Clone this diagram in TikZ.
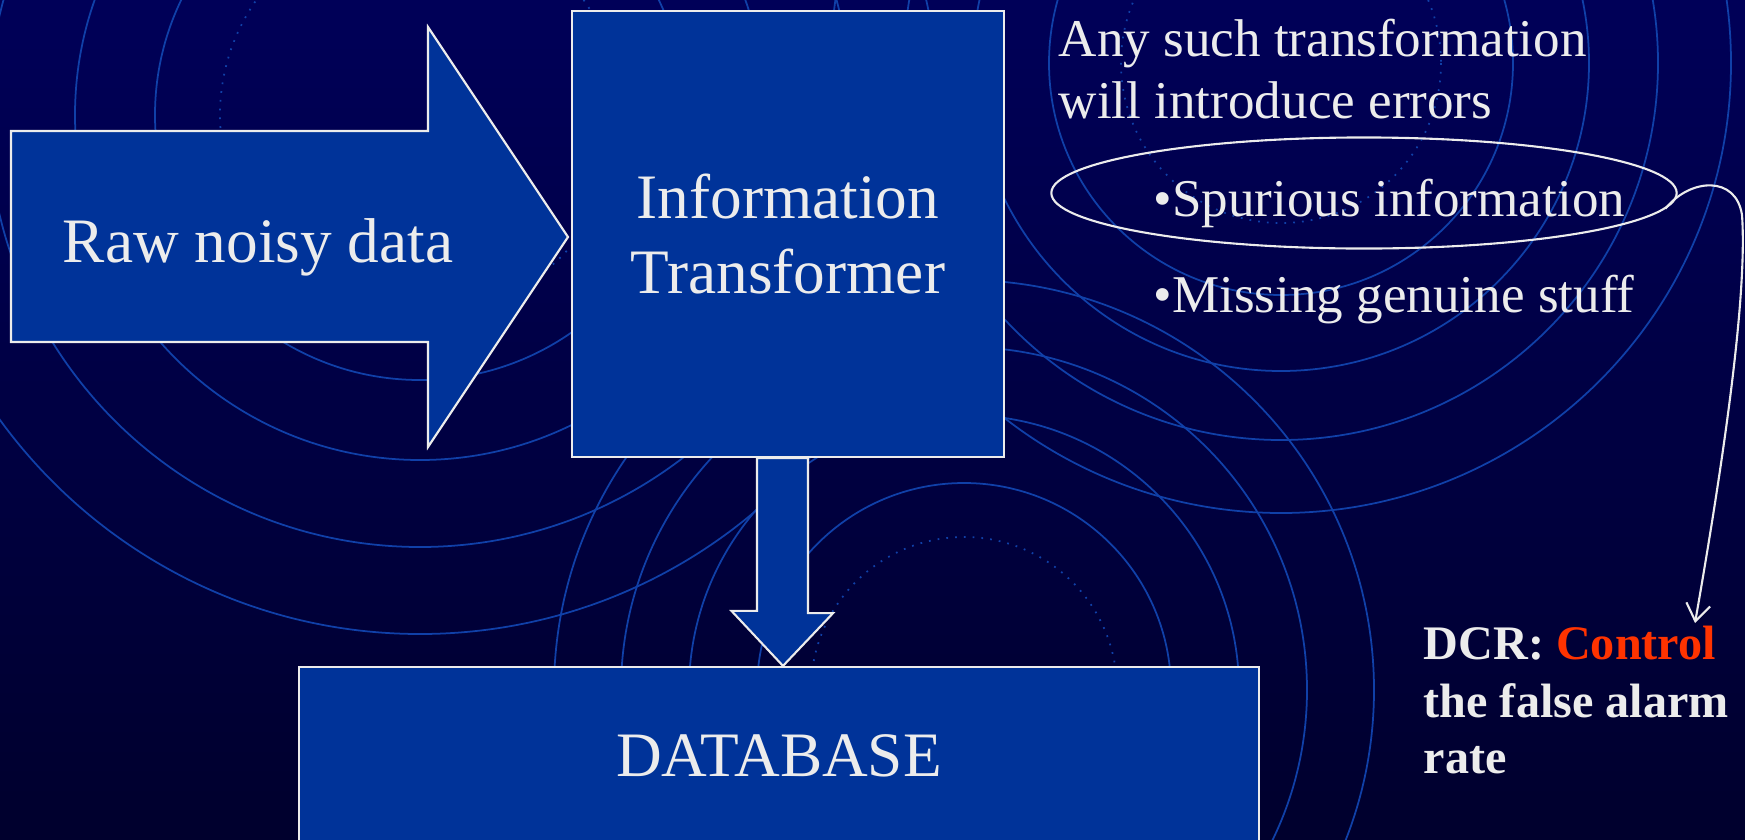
\documentclass[tikz,border=0pt]{standalone}
\usepackage{fontspec}
\setmainfont{Liberation Serif}
\usetikzlibrary{shapes.geometric,arrows.meta}

\definecolor{bgtop}{RGB}{0,0,88}
\definecolor{bgbot}{RGB}{0,0,45}
\definecolor{boxblue}{RGB}{0,51,153}
\definecolor{ripple}{RGB}{16,64,168}
\definecolor{txt}{RGB}{236,236,236}
\definecolor{alarm}{RGB}{255,51,0}

\tikzset{
  blockbox/.style={draw=txt, fill=boxblue, line width=0.6pt, inner sep=0pt},
  bigtxt/.style={text=txt, font=\fontsize{18}{21.5}\selectfont, inner sep=0pt},
  sidetxt/.style={text=txt, font=\fontsize{15.1}{17.4}\selectfont, inner sep=0pt, anchor=base west},
  dcrtxt/.style={text=txt, font=\fontsize{13.7}{16.6}\selectfont\bfseries, inner sep=0pt, anchor=base west},
  ring/.style={draw=ripple, line width=0.5pt},
}

\begin{document}
\begin{tikzpicture}[x=0.01cm,y=-0.01cm]
            \useasboundingbox (0,0) rectangle (1745,839);
            \shade[top color=bgtop, bottom color=bgbot] (0,0) rectangle (1745,839);
            % ripples in the background
            \begin{scope}
                \clip (0,0) rectangle (1745,839);
                \draw[ring, dotted] (420,115) circle (200);
                \foreach \r in {265,345,432,519} \draw[ring] (420,115) circle (\r);
                \draw[ring, dotted] (1281,63) circle (160);
                \foreach \r in {232,308,377,450} \draw[ring] (1281,63) circle (\r);
                \draw[ring, dotted] (964,690) circle (153);
                \foreach \r in {207,275,343,410} \draw[ring] (964,690) circle (\r);
            \end{scope}
            % input arrow
            \draw[blockbox] (11,131) -- (428,131) -- (428,27) -- (568,237) -- (428,447) -- (428,342) -- (11,342) -- cycle;
            \node[bigtxt, anchor=base] (raw) at (258,262) {Raw noisy data};
            \node[blockbox, bigtxt, align=center, minimum width=4.32cm, minimum height=4.46cm] (info) at (788,234) {Information\\Transformer};
            \node[blockbox, bigtxt, minimum width=9.6cm, minimum height=1.78cm] (db) at (779,756) {DATABASE};
            \draw[blockbox] ([xshift=-0.31cm]info.south) -- ++(51,0) -- ++(0,155) -- ++(25,0) -- ([xshift=0.04cm]db.north) -- ++(-51.5,-55) -- ++(25.5,0) -- cycle;
            % errors
            \node[sidetxt] (any1) at (1058,56) {Any such transformation};
            \node[sidetxt] (any2) at (1058,118) {will introduce errors};
            \node[draw=txt, line width=0.6pt, ellipse, inner sep=0pt, minimum width=6.25cm, minimum height=1.11cm] (ell) at (1364,193) {};
            \node[sidetxt] (spur) at (1153,216) {\textbullet Spurious information};
            \node[sidetxt] (miss) at (1153,312) {\textbullet Missing genuine stuff};
            % DCR
            \node[dcrtxt] (dcr1) at (1423,659) {DCR: \textcolor{alarm}{Control}};
            \node[dcrtxt] (dcr2) at (1423,717) {the false alarm};
            \node[dcrtxt] (dcr3) at (1423,773) {rate};
            \coordinate (hit) at (1695,623);
            \draw[txt, line width=0.6pt, -{Straight Barb[length=0.17cm,width=0.24cm]}] (ell.-3) .. controls (1690,178) and (1736,175) .. (1742,215) .. controls (1748,300) and (1720,480) .. (hit);
        \end{tikzpicture}
\end{document}
